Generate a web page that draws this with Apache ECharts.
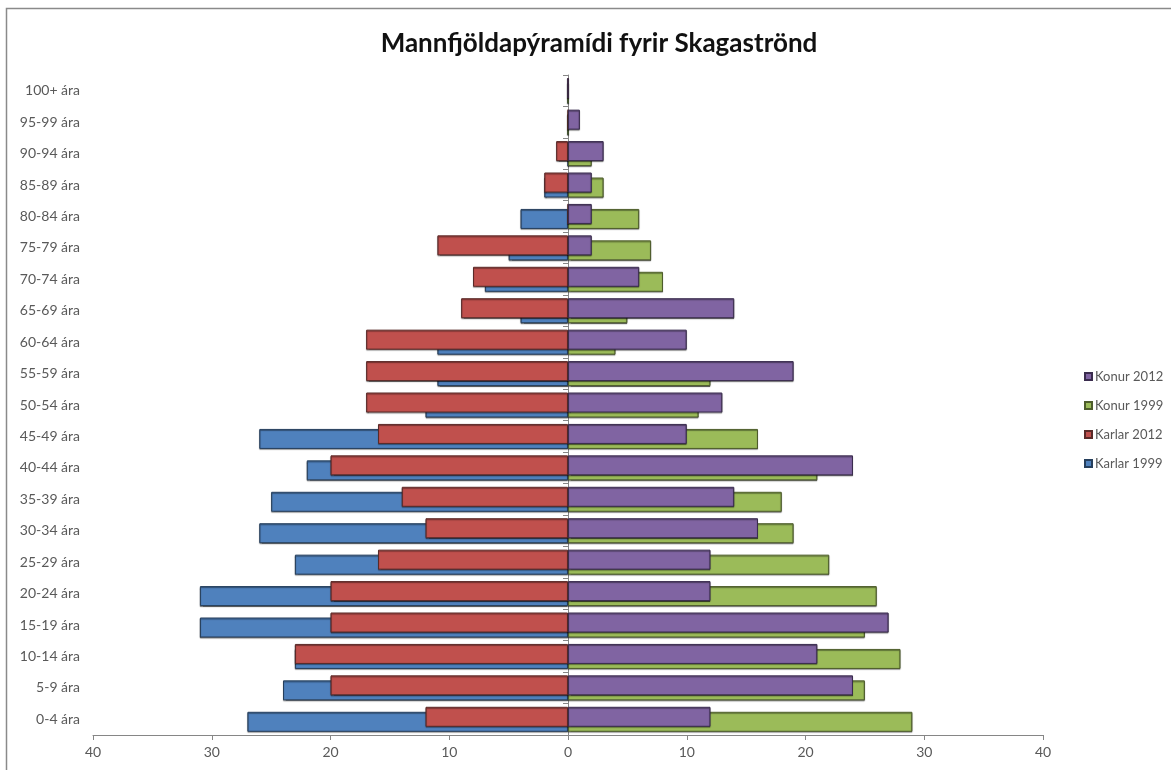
<!DOCTYPE html>
<html>
<head>
<meta charset="utf-8">
<script src="https://cdn.jsdelivr.net/npm/echarts@6/dist/echarts.min.js"></script>
<style>
html,body{margin:0;padding:0;background:#fff;}
#chart{width:1171px;height:770px;}
</style>
</head>
<body>
<div id="chart"></div>
<script>
// Age groups, bottom to top
const categories = ['0-4 ára','5-9 ára','10-14 ára','15-19 ára','20-24 ára','25-29 ára','30-34 ára','35-39 ára','40-44 ára','45-49 ára','50-54 ára','55-59 ára','60-64 ára','65-69 ára','70-74 ára','75-79 ára','80-84 ára','85-89 ára','90-94 ára','95-99 ára','100+ ára'];
// Men (shown to the left)
const karlar2012 = [12,20,23,20,20,16,12,14,20,16,17,17,17,9,8,11,0,2,1,0,0];
const karlar1999 = [27,24,23,31,31,23,26,25,22,26,12,11,11,4,7,5,4,2,0,0,0];
// Women (shown to the right)
const konur2012 = [12,24,21,27,12,12,16,14,24,10,13,19,10,14,6,2,2,2,3,1,0];
const konur1999 = [29,25,28,25,26,22,19,18,21,16,11,12,4,5,8,7,6,3,2,0,0];
const legendOrder = ['Konur 2012','Konur 1999','Karlar 2012','Karlar 1999'];

const FONT = 'Lato, "Liberation Sans", sans-serif';
const neg = a => a.map(v => -v);

function barSeries(name, data, color, border, stack, z) {
  return {
    name, type: 'bar', data, stack, z,
    barWidth: 20, barGap: '-75%',
    itemStyle: {
      color: color, borderColor: border, borderWidth: 1,
      shadowColor: 'rgba(0,0,0,0.45)', shadowOffsetX: 0, shadowOffsetY: 1, shadowBlur: 1
    },
    emphasis: { disabled: true }
  };
}

const chart = echarts.init(document.getElementById('chart'));
chart.setOption({
  animation: false,
  backgroundColor: '#ffffff',
  textStyle: { fontFamily: FONT },
  title: {
    text: 'Mannfjöldapýramídi fyrir Skagaströnd',
    left: 594, top: 26, textAlign: 'center',
    textStyle: { fontFamily: FONT, fontSize: 26, fontWeight: 'bold', color: '#111111' }
  },
  graphic: [{
    type: 'rect', shape: { x: 6.5, y: 8.5, width: 1200, height: 800 },
    style: { fill: 'none', stroke: '#8a8a8a', lineWidth: 1.5 }, silent: true, z: -10
  }],
  legend: {
    data: legendOrder,
    orient: 'vertical', left: 1079, top: 365,
    itemWidth: 7, itemHeight: 7, itemGap: 16, icon: 'rect',
    textStyle: { fontFamily: FONT, fontSize: 13, color: '#595959', padding: [0, 0, 0, -2] }
  },
  grid: { left: 93, right: 128, top: 75, bottom: 35, containLabel: false },
  xAxis: {
    type: 'value', min: -40, max: 40, interval: 10,
    axisLine: { show: true, lineStyle: { color: '#868686' } },
    axisTick: { show: true, length: 5, lineStyle: { color: '#868686' } },
    axisLabel: { color: '#595959', fontSize: 14, margin: 10, formatter: v => String(Math.abs(v)) },
    splitLine: { show: false }
  },
  yAxis: [{
    type: 'category', data: categories,
    axisLine: { show: true, onZero: true, lineStyle: { color: '#868686' } },
    axisTick: { show: true, length: 5, lineStyle: { color: '#868686' } },
    axisLabel: { show: false },
    splitLine: { show: false }
  }, {
    type: 'category', data: categories, position: 'left',
    axisLine: { show: false, onZero: false },
    axisTick: { show: false },
    axisLabel: { color: '#595959', fontSize: 14, margin: 13 },
    splitLine: { show: false }
  }],
  series: [
    barSeries('Karlar 2012', neg(karlar2012), '#C0504D', '#5a2a28', 'y2012', 4),
    barSeries('Konur 2012', konur2012, '#8064A2', '#3a2c4e', 'y2012', 4),
    barSeries('Karlar 1999', neg(karlar1999), '#4F81BD', '#263f5c', 'y1999', 2),
    barSeries('Konur 1999', konur1999, '#9BBB59', '#4d5c2b', 'y1999', 2)
  ]
});
</script>
</body>
</html>
